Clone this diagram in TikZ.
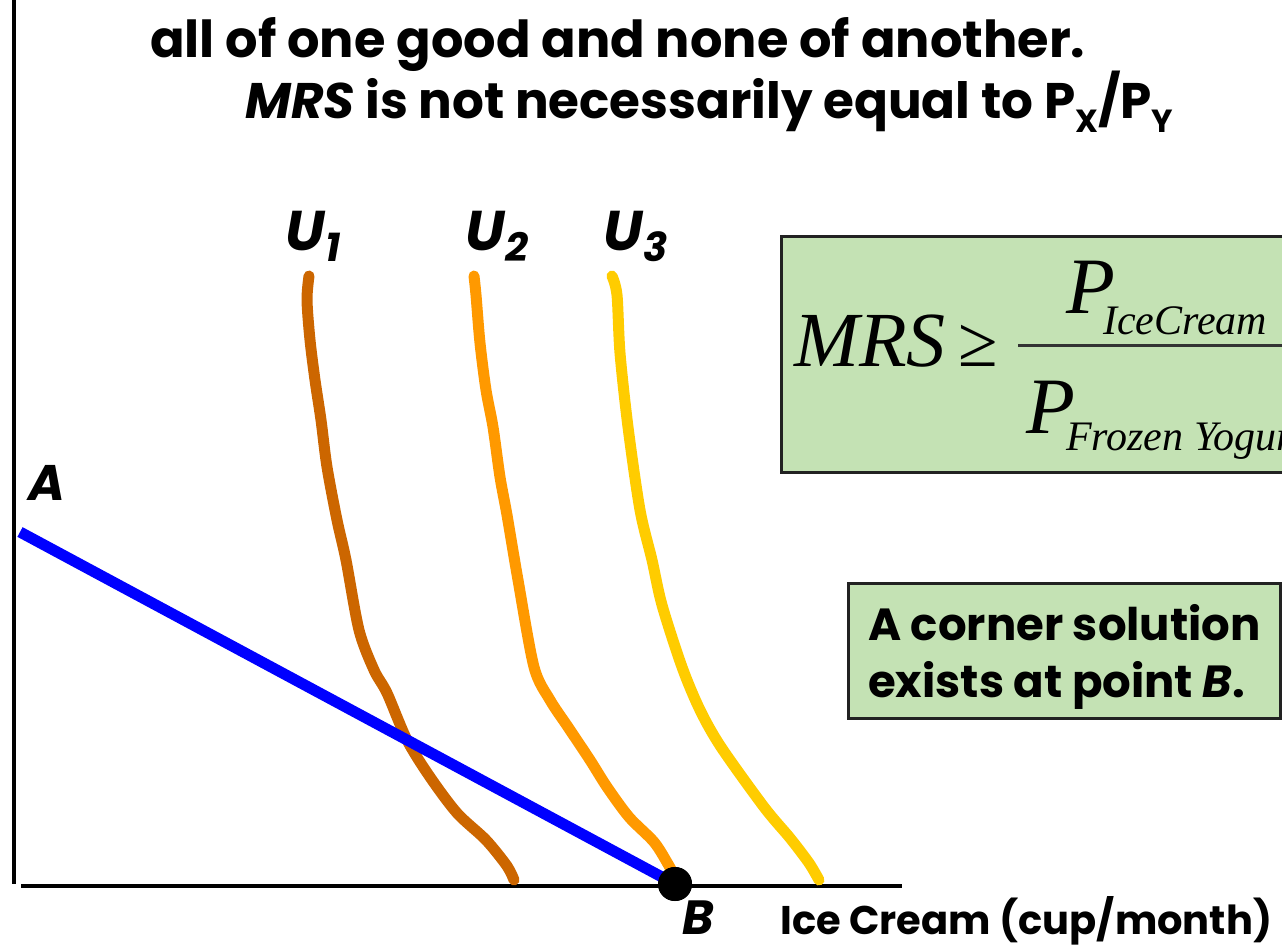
\documentclass[tikz,border=0pt]{standalone}
\usepackage{fontspec}
\setmainfont{Poppins}
\newfontfamily\serifit{Liberation Serif}
\definecolor{uone}{HTML}{CC6600}
\definecolor{utwo}{HTML}{FF9900}
\definecolor{uthree}{HTML}{FFCC00}
\definecolor{boxgreen}{HTML}{C4E2B4}
\definecolor{boxline}{HTML}{222222}
\definecolor{budget}{HTML}{0000FF}
\tikzset{
  txt/.style={anchor=base west, inner sep=0pt, font=\bfseries\fontsize{#1}{#1}\selectfont},
  ser/.style={anchor=base west, inner sep=0pt, font=\serifit\itshape\fontsize{#1}{#1}\selectfont},
  curve/.style={line width=11pt, line cap=round, line join=round},
  greenbox/.style={draw=boxline, line width=3pt, fill=boxgreen},
  axis/.style={line width=4.5pt, black}
}
\begin{document}
\begin{tikzpicture}[x=1pt,y=-1pt]
\useasboundingbox (0,0) rectangle (1282,946);
\clip (0,0) rectangle (1282,946);
% axes
\coordinate (ytop) at (14,0);
\coordinate (ybot) at (14,884);
\coordinate (xl) at (21,886);
\coordinate (xr) at (902,886);
\draw[axis] (ytop) -- (ybot);
\draw[axis] (xl) -- (xr);
% title
\node[txt=51] (t1) at (150,57) {all of one good and none of another.};
\node[txt=50] (t2) at (245,118) {\textit{MRS} is not necessarily equal to P\raisebox{-0.28em}{\fontsize{32}{32}\selectfont X}/P\raisebox{-0.28em}{\fontsize{32}{32}\selectfont Y}};
% indifference curves
\draw[curve, uone] plot[smooth, tension=0.5] coordinates {(309,276) (307,300) (310,340) (315,380) (321,420) (327,467) (337,520) (346,560) (359,630) (374,670) (387,693) (407,740) (430,777) (457,813) (486,840) (507,866) (514,880)};
\draw[curve, utwo] plot[smooth, tension=0.5] coordinates {(474,276) (476,295) (480,343) (486,390) (493,427) (500,477) (507,515) (518,580) (534,667) (550,700) (568,727) (590,760) (607,787) (629,817) (654,842) (668,864) (674,875)};
\draw[curve, uthree] plot[smooth, tension=0.5] coordinates {(612,276) (617,295) (620,353) (628,427) (640,510) (652,560) (662,605) (682,667) (700,710) (721,747) (764,807) (790,838) (809,863) (819,880)};
% curve labels
\node[txt=56] (u1) at (285,250) {\textit{U}\raisebox{-0.2em}{\fontsize{40}{40}\selectfont\textit{1}}};
\node[txt=56] (u2) at (465,250) {\textit{U}\raisebox{-0.2em}{\fontsize{40}{40}\selectfont\textit{2}}};
\node[txt=56] (u3) at (603,250) {\textit{U}\raisebox{-0.2em}{\fontsize{40}{40}\selectfont\textit{3}}};
% budget line
\coordinate (A) at (20,532);
\node[circle, fill=black, minimum size=34pt, inner sep=0pt] (B) at (675,884) {};
\draw[line width=11pt, budget] (A) -- (B.center);
\node[circle, fill=black, minimum size=34pt, inner sep=0pt] at (B) {};
\node[txt=50] (la) at (28,500) {\textit{A}};
\node[txt=48] (lb) at (682,934) {\textit{B}};
\node[txt=40] (xlab) at (780,934) {Ice Cream (cup/month)};
% formula box
\draw[greenbox] (781,236) rectangle (1300,472);
\node[ser=78] (mrs) at (794,366) {MRS};
\node[anchor=base west, inner sep=0pt, font=\serifit\fontsize{72}{72}\selectfont] (geq) at (958,366) {≥};
\draw[line width=3pt, black!80] (1018,345) -- (1300,345);
\node[ser=80] (pn) at (1066,313) {P};
\node[ser=42] (pns) at (1103,334) {IceCream};
\node[ser=80] (pd) at (1026,433) {P};
\node[ser=42] (pds) at (1066,450) {Frozen Yogurt};
% corner box
\draw[greenbox] (848,583) rectangle (1280,718);
\node[txt=45] (c1) at (868,640) {A corner solution};
\node[txt=45] (c2) at (868,697) {exists at point \textit{B}.};
\end{tikzpicture}
\end{document}
